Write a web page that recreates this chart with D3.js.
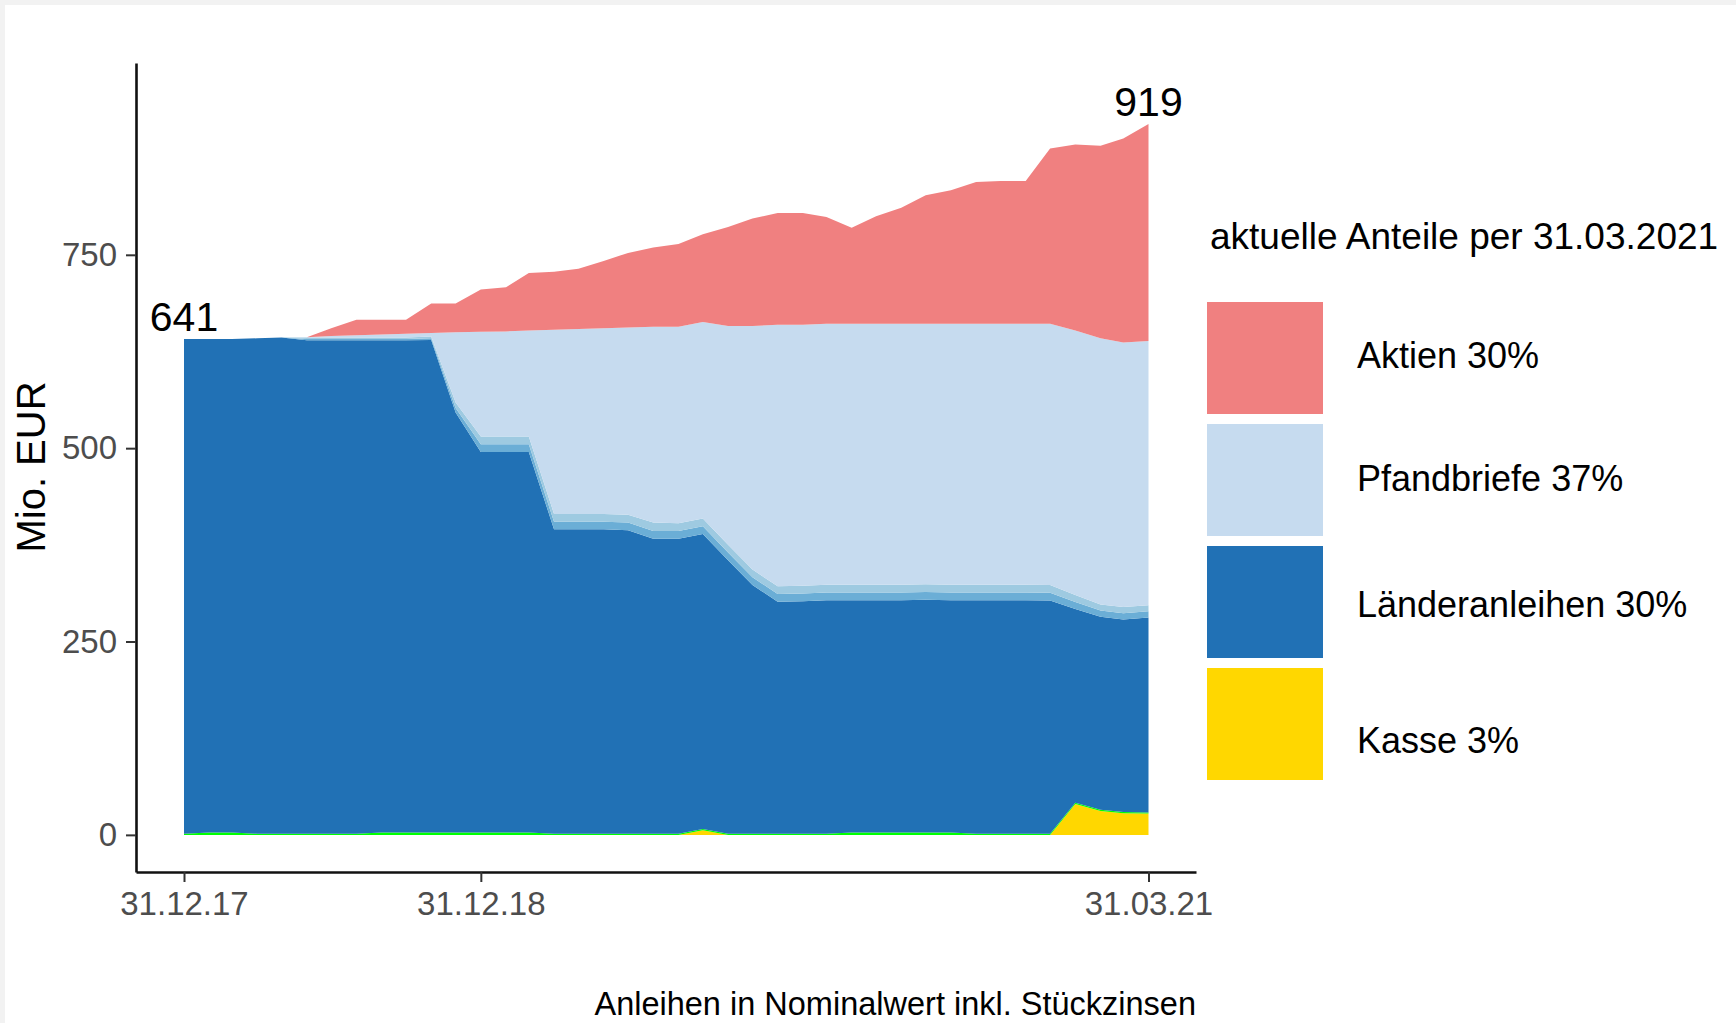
<!DOCTYPE html>
<html>
<head>
<meta charset="utf-8">
<script src="https://cdn.jsdelivr.net/npm/d3@7"></script>
<style>
  html, body { margin: 0; padding: 0; background: #ffffff; }
  svg { display: block; font-family: "Liberation Sans", Arial, sans-serif; }
</style>
</head>
<body>
<svg id="chart" width="1736" height="1023"></svg>
<script>
// ---------- data (Mio. EUR, month ends) ----------
const dates = ["2017-12-31","2018-01-31","2018-02-28","2018-03-31","2018-04-30","2018-05-31","2018-06-30","2018-07-31","2018-08-31","2018-09-30","2018-10-31","2018-11-30","2018-12-31","2019-01-31","2019-02-28","2019-03-31","2019-04-30","2019-05-31","2019-06-30","2019-07-31","2019-08-31","2019-09-30","2019-10-31","2019-11-30","2019-12-31","2020-01-31","2020-02-29","2020-03-31","2020-04-30","2020-05-31","2020-06-30","2020-07-31","2020-08-31","2020-09-30","2020-10-31","2020-11-30","2020-12-31","2021-01-31","2021-02-28","2021-03-31"];
const kasse    = [0,0,0,0,0, 0,0,0,0,0, 0,0,0,0,0, 0,0,0,0,0, 0,6,0,0,0, 0,0,0,0,0, 0,0,0,0,0, 0,40,31,28,27.5];
const sonstige = [1.5,3,3,1.5,1.5, 1.5,1.5,1.5,3,3, 3,3,3,3,3, 1.5,1.5,1.5,1.5,1.5, 1.5,1.5,1.5,1.5,1.5, 1.5,1.5,3,3,3, 3,3,1.5,1.5,1.5, 1.5,1.5,1.5,1.5,1.5];
const laender  = [639.5,638,638,640.5,641.5, 638,638,638,636.5,636.5, 637,543,492,492,492, 393.5,393.5,393.5,392.5,381.5, 381.5,381.5,353.5,321.5,300, 300.5,302,300.5,300.5,300.5, 301,300.5,302,302,302, 301.5,250.5,249.5,249,252];
const anleiheA = [0,0,0,0,0, 1.5,1.5,1.5,1.5,1.5, 2,6,10,10,10, 10,10,10,10,10, 10,10,10,10,10, 10,10,10,10,10, 10,10,10,10,10, 10,9,8,8,8];
const anleiheB = [0,0,0,0,0, 2,2,2,2,2, 2.5,7,10,10,10, 10,10,10,10,11, 10,10,10,10,10, 10,10,10,10,10, 10,10,10,10,10, 10,9,8,8,8];
const pfand    = [0,0,0,0,0, 0.5,2,3,4,5, 4.5,91,135.5,136,137, 238,239,240,242,253, 254,254,283,315,338, 337.5,337.5,337.5,337.5,337.5, 337,337.5,337.5,337.5,337.5, 338,342,344,342,341.5];
const aktien   = [0,0,0,0,0, 0,10,20,19,18, 38,37,54.5,57,74.5, 75,78,87,96.5,102.5, 107,113.5,128,139,144.5, 144.5,138,124,139,150, 166,172.5,183,184.5,184.5, 226.5,240.5,249,264,280.5];

const seriesKeys   = ["Kasse","Sonstige","Länderanleihen","AnleihenA","AnleihenB","Pfandbriefe","Aktien"];
const seriesColors = ["#ffd700","#00ff00","#2171b5","#6baed6","#9ecae1","#c6dbef","#f08080"];
const legendLabels = ["Aktien 30%","Pfandbriefe 37%","Länderanleihen 30%","Kasse 3%"];
const legendColors = ["#f08080","#c6dbef","#2171b5","#ffd700"];
const legendTitle  = "aktuelle Anteile per 31.03.2021";
const yTicks = [0,250,500,750];
const xTickDates = ["2017-12-31","2018-12-31","2021-03-31"];
const yLabel = "Mio. EUR";
const caption = "Anleihen in Nominalwert inkl. Stückzinsen";

// ---------- build ----------
const parse = d3.timeParse("%Y-%m-%d");
const rows = dates.map((d, i) => ({
  date: parse(d),
  "Kasse": kasse[i], "Sonstige": sonstige[i], "Länderanleihen": laender[i],
  "AnleihenA": anleiheA[i], "AnleihenB": anleiheB[i], "Pfandbriefe": pfand[i], "Aktien": aktien[i]
}));

const svg = d3.select("#chart");
svg.append("rect").attr("x",0).attr("y",0).attr("width",1736).attr("height",1023).attr("fill","#f2f2f2");
svg.append("rect").attr("x",5).attr("y",5).attr("width",1731).attr("height",1018).attr("fill","#ffffff");

const panel = {left: 136, right: 1196, top: 63, bottom: 872};

const x = d3.scaleTime()
  .domain([parse(dates[0]), parse(dates[dates.length-1])])
  .range([184, 1148.5]);
const xAxisScale = x.copy().domain([x.invert(panel.left), x.invert(panel.right)]).range([panel.left, panel.right]);
const y = d3.scaleLinear().domain([-48, 998]).range([panel.bottom, panel.top]);

const stack = d3.stack().keys(seriesKeys);
const layers = stack(rows);

const area = d3.area()
  .x(d => x(d.data.date))
  .y0(d => y(d[0]))
  .y1(d => y(d[1]));

svg.append("g").selectAll("path")
  .data(layers)
  .join("path")
  .attr("d", area)
  .attr("fill", (d, i) => seriesColors[i]);

// totals labels
const totals = rows.map(r => seriesKeys.reduce((s, k) => s + r[k], 0));
const labelIdx = [0, rows.length - 1];
svg.append("g").selectAll("text")
  .data(labelIdx)
  .join("text")
  .attr("x", i => x(rows[i].date))
  .attr("y", i => y(totals[i]) - 8)
  .attr("text-anchor", "middle")
  .attr("font-size", 41)
  .attr("fill", "#000")
  .text(i => d3.format(".0f")(totals[i]));

// axes
const xAxis = d3.axisBottom(xAxisScale)
  .tickValues(xTickDates.map(parse))
  .tickFormat(d3.timeFormat("%d.%m.%y"))
  .tickSizeInner(10).tickSizeOuter(0).tickPadding(10);
const gx = svg.append("g").attr("transform", `translate(0,${panel.bottom})`).call(xAxis);
gx.select(".domain").attr("stroke", "#111").attr("stroke-width", 2.6);
gx.selectAll(".tick line").attr("stroke", "#333").attr("stroke-width", 2);
gx.selectAll(".tick text").attr("font-size", 33).attr("fill", "#4d4d4d").attr("font-family", "Liberation Sans, Arial, sans-serif");

const yAxis = d3.axisLeft(y).tickValues(yTicks).tickSizeInner(10).tickSizeOuter(0).tickPadding(9);
const gy = svg.append("g").attr("transform", `translate(${panel.left},0)`).call(yAxis);
gy.select(".domain").attr("stroke", "#111").attr("stroke-width", 2.6);
gy.selectAll(".tick line").attr("stroke", "#333").attr("stroke-width", 2);
gy.selectAll(".tick text").attr("font-size", 33).attr("fill", "#4d4d4d").attr("font-family", "Liberation Sans, Arial, sans-serif");

// y label
svg.append("text")
  .attr("transform", "translate(45,467) rotate(-90)")
  .attr("text-anchor", "middle")
  .attr("font-size", 40)
  .attr("fill", "#000")
  .text(yLabel);

// caption
svg.append("text")
  .attr("x", 1196).attr("y", 1015)
  .attr("text-anchor", "end")
  .attr("font-size", 32.5)
  .attr("fill", "#000")
  .text(caption);

// legend
const lg = svg.append("g");
lg.append("text")
  .attr("x", 1210).attr("y", 249)
  .attr("font-size", 37)
  .attr("fill", "#000")
  .text(legendTitle);
const keyY = [302, 424, 546, 668];
const labelBase = [368, 491, 617, 753];
lg.selectAll("rect.key")
  .data(legendLabels)
  .join("rect")
  .attr("class", "key")
  .attr("x", 1207).attr("y", (d, i) => keyY[i])
  .attr("width", 116).attr("height", 112)
  .attr("fill", (d, i) => legendColors[i]);
lg.selectAll("text.lab")
  .data(legendLabels)
  .join("text")
  .attr("class", "lab")
  .attr("x", 1357).attr("y", (d, i) => labelBase[i])
  .attr("font-size", 36)
  .attr("fill", "#000")
  .text(d => d);
</script>
</body>
</html>
